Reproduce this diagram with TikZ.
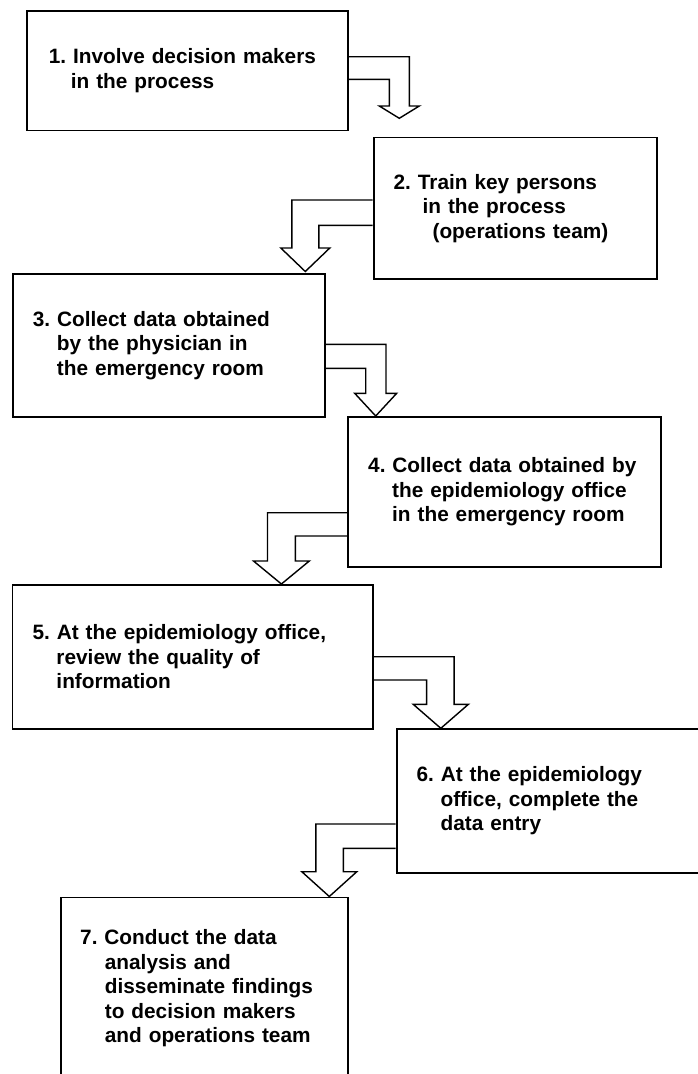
\documentclass[tikz,border=0pt]{standalone}
\usepackage{fontspec}
\setmainfont{Liberation Sans}
\usetikzlibrary{calc}

\begin{document}
\frenchspacing
\begin{tikzpicture}[
    x=1pt, y=-1pt,
    stepbox/.style={draw, line width=1.8pt, anchor=north west, inner xsep=20pt, align=left,
        font=\fontsize{20.8}{24.5}\selectfont\bfseries},
    hollow/.style={draw, line width=1.4pt, line join=miter}
]
    \useasboundingbox (0,0) rectangle (698,1074);

    \node[stepbox, inner xsep=22pt, text width=276.7pt, minimum height=119.5pt] (involve) at (26,10)
        {1. Involve decision makers\\\hspace*{22pt}in the process};
    \node[stepbox, text width=243pt, minimum height=141.5pt] (train) at (372.7,136.5)
        {2. Train key persons\\\hspace*{29pt}in the process\\\hspace*{39pt}(operations team)};
    \node[stepbox, text width=272pt, minimum height=143pt] (physician) at (12,273)
        {3. Collect data obtained\\\hspace*{24pt}by the physician in\\\hspace*{24pt}the emergency room};
    \node[stepbox, text width=272.7pt, minimum height=150pt] (epioffice) at (347.3,416)
        {4. Collect data obtained by\\\hspace*{24pt}the epidemiology office\\\hspace*{24pt}in the emergency room};
    \node[stepbox, text width=320.6pt, minimum height=144.3pt] (review) at (11.6,584)
        {5. At the epidemiology office,\\\hspace*{24pt}review the quality of\\\hspace*{24pt}information};
    \node[stepbox, text width=274.3pt, minimum height=143.4pt] (entry) at (395.7,728.3)
        {6. At the epidemiology\\\hspace*{24pt}office, complete the\\\hspace*{24pt}data entry};
    \node[stepbox, inner xsep=19.3pt, text width=248.7pt, minimum height=181.5pt] (analysis) at (60,896.5)
        {7. Conduct the data\\\hspace*{24.7pt}analysis and\\\hspace*{24.7pt}disseminate findings\\\hspace*{24.7pt}to decision makers\\\hspace*{24.7pt}and operations team};

    % bent block arrows
    \draw[hollow] ($(involve.north east)+(0,46.7)$) -| ($(train.north west)+(36.6,-30.5)$)
        -- ++(10,0) -- ++(-20,12.3) -- ++(-20,-12.3) -- ++(10,0) |- ($(involve.north east)+(0,69.3)$);
    \draw[hollow] ($(train.north west)+(0,63.5)$) -| ($(physician.north east)+(-34,-25)$)
        -- ++(-11,0) -- ++(24.5,23.5) -- ++(24.5,-23.5) -- ++(-11,0) |- ($(train.north west)+(0,88.8)$);
    \draw[hollow] ($(physician.north east)+(0,71.3)$) -| ($(epioffice.north west)+(38.7,-22.7)$)
        -- ++(10.7,0) -- ++(-21,22.7) -- ++(-21,-22.7) -- ++(11,0) |- ($(physician.north east)+(0,95.3)$);
    \draw[hollow] ($(epioffice.north west)+(0,96.7)$) -| ($(review.north east)+(-106.5,-23)$)
        -- ++(-14,0) -- ++(27.9,23) -- ++(27.9,-23) -- ++(-14,0) |- ($(epioffice.north west)+(0,120)$);
    \draw[hollow] ($(review.north east)+(0,72.7)$) -| ($(entry.north west)+(58.4,-24)$)
        -- ++(14.3,0) -- ++(-27.6,24) -- ++(-27.6,-24) -- ++(13.4,0) |- ($(review.north east)+(0,96)$);
    \draw[hollow] ($(entry.north west)+(0,95.7)$) -| ($(analysis.north east)+(-33.3,-24.8)$)
        -- ++(-14,0) -- ++(27.5,24.8) -- ++(27.5,-24.8) -- ++(-13.5,0) |- ($(entry.north west)+(0,120)$);
\end{tikzpicture}
\end{document}
